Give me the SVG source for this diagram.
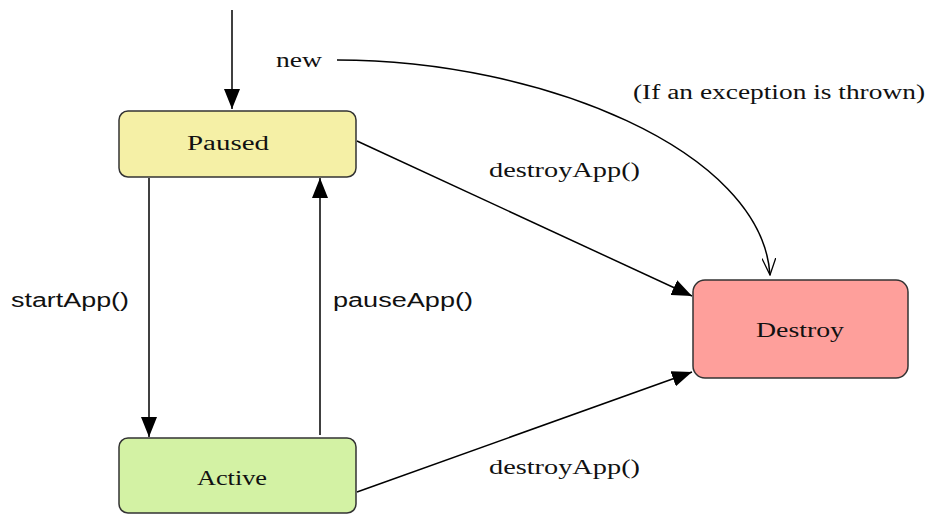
<svg xmlns="http://www.w3.org/2000/svg" width="928" height="515" viewBox="0 0 928 515">
<style>
.node rect{stroke:#333;stroke-width:1.5}
.serif{font-family:"Liberation Serif","DejaVu Serif",serif;font-size:20px;fill:#111}
.sans{font-family:"Liberation Sans","DejaVu Sans",sans-serif;font-size:20px;fill:#111}
.edge{fill:none;stroke:#000;stroke-width:1.5}
</style>
<defs>
<marker id="fa" viewBox="0 0 12 10" refX="12" refY="5" markerWidth="12" markerHeight="10" markerUnits="userSpaceOnUse" orient="auto">
<path d="M0,0 L12,5 L0,10 z" fill="#000"/>
</marker>
<marker id="oa" viewBox="0 0 18 14" refX="17" refY="7" markerWidth="18" markerHeight="14" markerUnits="userSpaceOnUse" orient="auto">
<path d="M0,0 L17,7 L0,14" fill="none" stroke="#000" stroke-width="1.3"/>
</marker>
<marker id="fb" viewBox="0 0 20 16" refX="20" refY="8" markerWidth="20" markerHeight="16" markerUnits="userSpaceOnUse" orient="auto">
<path d="M0,0 L20,8 L0,16 z" fill="#000"/>
</marker>
</defs>
<rect width="928" height="515" fill="#fff"/>
<g id="connectors">
<line class="edge" x1="232" y1="10" x2="232" y2="109" marker-end="url(#fb)"/>
<line class="edge" x1="149" y1="178" x2="149" y2="437" marker-end="url(#fb)"/>
<line class="edge" x1="320" y1="435" x2="320" y2="178" marker-end="url(#fb)"/>
<line class="edge" x1="357" y1="141" x2="692" y2="296" marker-end="url(#fb)"/>
<line class="edge" x1="357" y1="492" x2="692" y2="372" marker-end="url(#fb)"/>
<path class="edge" d="M337,60 C540,60 762,150 770,275" marker-end="url(#oa)"/>
<text class="serif" x="276" y="67" textLength="46" lengthAdjust="spacingAndGlyphs">new</text>
<text class="serif" x="633" y="99" textLength="292" lengthAdjust="spacingAndGlyphs">(If an exception is thrown)</text>
<text class="serif" x="489" y="177" textLength="151" lengthAdjust="spacingAndGlyphs">destroyApp()</text>
<text class="sans" x="11" y="307" textLength="118" lengthAdjust="spacingAndGlyphs">startApp()</text>
<text class="sans" x="333" y="307" textLength="140" lengthAdjust="spacingAndGlyphs">pauseApp()</text>
<text class="serif" x="489" y="474" textLength="151" lengthAdjust="spacingAndGlyphs">destroyApp()</text>
</g>
<g id="paused" class="node">
<rect x="119" y="111" width="237" height="66" rx="9" fill="#f5f0a6"/>
<text class="serif" x="228" y="150" text-anchor="middle" textLength="82" lengthAdjust="spacingAndGlyphs">Paused</text>
</g>
<g id="active" class="node">
<rect x="119" y="438" width="237" height="75" rx="9" fill="#d3f2a4"/>
<text class="serif" x="232" y="485" text-anchor="middle" textLength="70" lengthAdjust="spacingAndGlyphs">Active</text>
</g>
<g id="destroy" class="node">
<rect x="693" y="280" width="215" height="98" rx="12" fill="#fe9f9b"/>
<text class="serif" x="800" y="337" text-anchor="middle" textLength="88" lengthAdjust="spacingAndGlyphs">Destroy</text>
</g>
</svg>
